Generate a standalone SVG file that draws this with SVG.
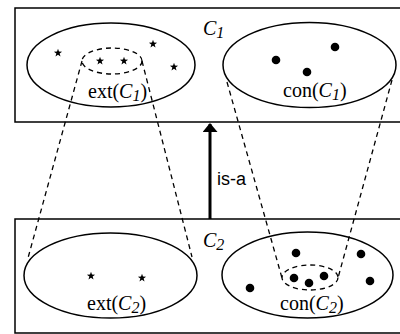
<svg xmlns="http://www.w3.org/2000/svg" width="400" height="334" viewBox="0 0 400 334">
<style>
.box{fill:none;stroke:#000;stroke-width:1.5}
.ell{fill:none;stroke:#000;stroke-width:1.5}
.dash{fill:none;stroke:#000;stroke-width:1.3;stroke-dasharray:5,4}
.lbl{font-family:"Liberation Serif",serif;font-size:20px;fill:#000}
.it{font-style:italic}
.sub{font-size:16px}
.sans{font-family:"Liberation Sans",Arial,sans-serif;font-size:18px;fill:#000}
</style>
<defs>
<path id="star" d="M0,-4.3 L1.0,-1.4 L4.1,-1.33 L1.64,0.54 L2.54,3.5 L0,1.74 L-2.54,3.5 L-1.64,0.54 L-4.1,-1.33 L-1.0,-1.4 Z" fill="#000"/>
<marker id="ah" viewBox="0 0 9 15" refX="8" refY="7.5" markerWidth="9" markerHeight="15" markerUnits="userSpaceOnUse" orient="auto">
<path d="M0,0 L9,7.5 L0,15 Z" fill="#000"/>
</marker>
</defs>
<g id="C1">
<path class="box" d="M400,8 H15 V122 H400"/>
<text class="lbl it" x="203" y="35">C<tspan class="sub" dy="3">1</tspan></text>
</g>
<g id="C2">
<path class="box" d="M400,219 H15 V333 H400"/>
<text class="lbl it" x="203" y="247">C<tspan class="sub" dy="3">2</tspan></text>
</g>
<g id="ext1">
<ellipse class="ell" cx="111" cy="65" rx="84" ry="42"/>
<ellipse class="dash" cx="112" cy="61" rx="30" ry="13"/>
<use href="#star" x="58" y="53"/>
<use href="#star" x="153" y="44"/>
<use href="#star" x="174" y="67"/>
<use href="#star" x="100" y="61"/>
<use href="#star" x="124" y="61"/>
<text class="lbl" x="88" y="98">ext(<tspan class="it">C</tspan><tspan class="sub it" dy="3">1</tspan><tspan dy="-3">)</tspan></text>
</g>
<g id="con1">
<ellipse class="ell" cx="309.5" cy="65" rx="86.5" ry="42.5"/>
<circle cx="276" cy="60" r="4.3"/>
<circle cx="335" cy="47" r="4.3"/>
<circle cx="307" cy="72" r="4.3"/>
<text class="lbl" x="283" y="97">con(<tspan class="it">C</tspan><tspan class="sub it" dy="3">1</tspan><tspan dy="-3">)</tspan></text>
</g>
<g id="ext2">
<ellipse class="ell" cx="110.5" cy="275.5" rx="86.5" ry="42.5"/>
<use href="#star" x="91" y="276"/>
<use href="#star" x="142" y="278"/>
<text class="lbl" x="87" y="310">ext(<tspan class="it">C</tspan><tspan class="sub it" dy="3">2</tspan><tspan dy="-3">)</tspan></text>
</g>
<g id="con2">
<ellipse class="ell" cx="307.5" cy="275" rx="85.5" ry="43"/>
<ellipse class="dash" cx="310" cy="277.5" rx="28" ry="12.5"/>
<circle cx="296" cy="253" r="4.3"/>
<circle cx="361" cy="254" r="4.3"/>
<circle cx="250" cy="288" r="4.3"/>
<circle cx="370" cy="281" r="4.3"/>
<circle cx="294" cy="278" r="4.3"/>
<circle cx="309" cy="283" r="4.3"/>
<circle cx="324" cy="276" r="4.3"/>
<text class="lbl" x="280" y="310">con(<tspan class="it">C</tspan><tspan class="sub it" dy="3">2</tspan><tspan dy="-3">)</tspan></text>
</g>
<g id="connectors">
<line class="dash" x1="82" y1="61" x2="28" y2="258"/>
<line class="dash" x1="142" y1="61" x2="192" y2="257"/>
<line class="dash" x1="227" y1="82" x2="282" y2="278"/>
<line class="dash" x1="392" y1="80" x2="338" y2="278"/>
<line x1="210" y1="219" x2="210" y2="124" stroke="#000" stroke-width="3" marker-end="url(#ah)"/>
<text class="sans" x="217" y="185">is-a</text>
</g>
</svg>
